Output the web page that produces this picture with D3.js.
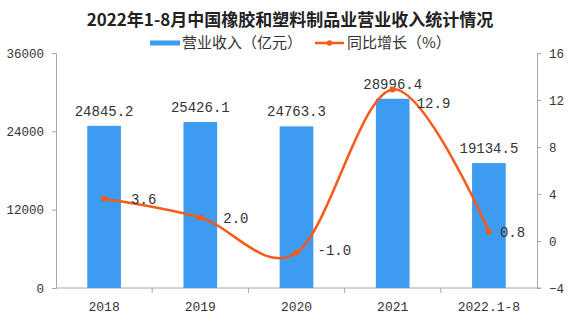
<!DOCTYPE html>
<html>
<head>
<meta charset="utf-8">
<script src="https://cdn.jsdelivr.net/npm/d3@7/dist/d3.min.js"></script>
<style>
  html, body { margin: 0; padding: 0; background: #fff; }
  svg { display: block; }
</style>
</head>
<body>
<svg id="chart" width="580" height="322"></svg>
<script>
// Revenue of China's rubber & plastic products industry, 2018 – Jan-Aug 2022
const categories = ["2018", "2019", "2020", "2021", "2022.1-8"];
const revenue = [24845.2, 25426.1, 24763.3, 28996.4, 19134.5];   // 亿元
const growth = [3.6, 2.0, -1.0, 12.9, 0.8];                      // %
const leftTicks = [0, 12000, 24000, 36000];
const rightTicks = [-4, 0, 4, 8, 12, 16];

const title = "2022年1-8月中国橡胶和塑料制品业营业收入统计情况";
const legendBar = "营业收入（亿元）";
const legendLine = "同比增长（%）";

const BAR = "#3d9cf0";
const LINE = "#f85a1a";
const AXIS = "#a6a6a6";
const TEXT = "#333";
const NUM_FONT = "'Liberation Mono', monospace";
const CJK_FONT = "'Noto Sans CJK SC', sans-serif";

const svg = d3.select("#chart");
const m = { left: 56, right: 43, top: 53, bottom: 34 };
const W = 580, H = 322;
const x0 = m.left, x1 = W - m.right, yTop = m.top, yBot = H - m.bottom;

const x = d3.scaleBand().domain(categories).range([x0, x1]).paddingInner(0.65).paddingOuter(0.325);
const band = d3.scaleBand().domain(categories).range([x0, x1]);
const yL = d3.scaleLinear().domain([0, 36000]).range([yBot, yTop]);
const yR = d3.scaleLinear().domain([-4, 16]).range([yBot, yTop]);

// title
svg.append("text")
  .attr("x", 290).attr("y", 26)
  .attr("text-anchor", "middle")
  .style("font-family", CJK_FONT).style("font-size", "17px").style("font-weight", "bold")
  .attr("fill", "#222")
  .text(title);

// legend
const lg = svg.append("g").attr("transform", "translate(0,43)");
lg.append("rect").attr("x", 150).attr("y", -2.5).attr("width", 30).attr("height", 5).attr("fill", BAR);
lg.append("text").attr("x", 182).attr("y", 0).attr("dy", "0.36em")
  .style("font-family", CJK_FONT).style("font-size", "15px").attr("fill", TEXT).text(legendBar);
lg.append("line").attr("x1", 315).attr("x2", 344).attr("y1", 0).attr("y2", 0)
  .attr("stroke", LINE).attr("stroke-width", 2.5);
lg.append("circle").attr("cx", 329.5).attr("cy", 0).attr("r", 2.8).attr("fill", LINE);
lg.append("text").attr("x", 347).attr("y", 0).attr("dy", "0.36em")
  .style("font-family", CJK_FONT).style("font-size", "15px").attr("fill", TEXT).text(legendLine);

// axes
const styleAxis = (g, size) => {
  g.selectAll(".domain").attr("stroke", AXIS);
  g.selectAll(".tick line").attr("stroke", AXIS);
  g.selectAll(".tick text").attr("fill", TEXT)
    .style("font-family", NUM_FONT).style("font-size", size);
};

svg.append("g").attr("transform", `translate(${x0},0)`)
  .call(d3.axisLeft(yL).tickValues(leftTicks).tickSize(4).tickSizeOuter(4).tickPadding(8).tickFormat(d3.format("d")))
  .call(g => styleAxis(g, "12.5px"));

svg.append("g").attr("transform", `translate(${x1},0)`)
  .call(d3.axisRight(yR).tickValues(rightTicks).tickSize(4).tickSizeOuter(4).tickPadding(8).tickFormat(d => d < 0 ? "−" + Math.abs(d) : d))
  .call(g => styleAxis(g, "12.5px"));

// x axis with ticks at band boundaries
const xg = svg.append("g").attr("transform", `translate(0,${yBot})`);
xg.append("line").attr("x1", x0).attr("x2", x1 + 4).attr("stroke", AXIS);
xg.selectAll("line.tk").data(categories.slice(1)).join("line").attr("class", "tk")
  .attr("x1", d => band(d)).attr("x2", d => band(d)).attr("y1", 0).attr("y2", 5).attr("stroke", AXIS);
xg.selectAll("text").data(categories).join("text")
  .attr("x", d => band(d) + band.bandwidth() / 2).attr("y", 23)
  .attr("text-anchor", "middle")
  .style("font-family", NUM_FONT).style("font-size", "13px").attr("fill", TEXT)
  .text(d => d);

// bars
svg.append("g").selectAll("rect").data(revenue).join("rect")
  .attr("x", (d, i) => x(categories[i]))
  .attr("width", x.bandwidth())
  .attr("y", d => yL(d))
  .attr("height", d => yL(0) - yL(d))
  .attr("fill", BAR);

// bar value labels
svg.append("g").selectAll("text").data(revenue).join("text")
  .attr("x", (d, i) => x(categories[i]) + x.bandwidth() / 2)
  .attr("y", d => yL(d) - 10)
  .attr("text-anchor", "middle")
  .style("font-family", NUM_FONT).style("font-size", "14px").attr("fill", TEXT)
  .text(d => d.toFixed(1));

// growth line
const cx = i => band(categories[i]) + band.bandwidth() / 2;
const line = d3.line().x((d, i) => cx(i)).y(d => yR(d)).curve(d3.curveCardinal.tension(0));
svg.append("path").datum(growth)
  .attr("d", line).attr("fill", "none").attr("stroke", LINE).attr("stroke-width", 2.5);
svg.append("g").selectAll("circle").data(growth).join("circle")
  .attr("cx", (d, i) => cx(i)).attr("cy", d => yR(d)).attr("r", 3).attr("fill", LINE);

// growth labels, offset from each point
const labelShift = [[27, 0], [23, 1], [21, -3], [24, 14], [11, 0]];
svg.append("g").selectAll("text").data(growth).join("text")
  .attr("x", (d, i) => cx(i) + labelShift[i][0])
  .attr("y", (d, i) => yR(d) + labelShift[i][1])
  .attr("dy", "0.35em")
  .style("font-family", NUM_FONT).style("font-size", "14px").attr("fill", TEXT)
  .text(d => d.toFixed(1));
</script>
</body>
</html>
